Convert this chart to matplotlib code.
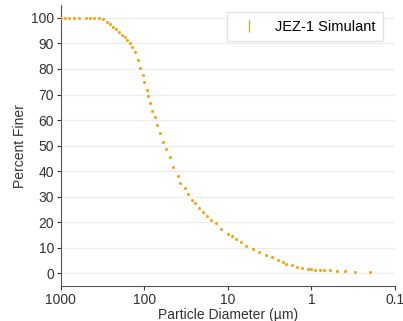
import matplotlib.pyplot as plt
from matplotlib.lines import Line2D

plt.rcParams['font.family'] = ['Liberation Sans', 'DejaVu Sans']
plt.rcParams['font.size'] = 10

# particle size distribution
diameter = [1000, 900, 800, 700, 600, 500, 450, 400, 350, 310, 280, 260, 240, 220,
            200, 185, 170, 160, 150, 140, 130, 120, 112, 105, 100, 94, 90, 85, 80,
            75, 70, 65, 60, 55, 50, 45, 40, 37, 33, 30, 27, 25, 22, 20, 18, 16, 14,
            12, 10, 9, 8, 7, 6, 5, 4.2, 3.5, 3, 2.5, 2.2, 2, 1.7, 1.5, 1.3, 1.1,
            1.0, 0.9, 0.8, 0.7, 0.6, 0.5, 0.4, 0.3, 0.2]
finer = [100, 100, 100, 100, 100, 100, 100, 100, 100, 99.5, 98.5, 97.5, 96.5, 95.5,
         94.5, 93.5, 92.5, 91.5, 90, 88.5, 86.5, 83.5, 80.5, 77.5, 75, 71.8, 69.5, 66.5, 63.5,
         61, 58, 55, 51.5, 48.5, 45.5, 41.5, 38, 35.5, 33.3, 31, 28.8, 27.5, 25.5, 24, 22.5, 21, 19.8,
         17.5, 15.5, 14.5, 13.3, 12.2, 10.8, 9.5, 8.2, 7, 6.2, 5, 4.3, 3.8, 3.1, 2.6, 2.1, 1.7,
         1.5, 1.3, 1.2, 1.2, 1.1, 1.0, 0.8, 0.5, 0.4]
xticks = [1000, 100, 10, 1, 0.1]
xlabels = ['1000', '100', '10', '1', '0.1']

fig = plt.figure(figsize=(4.03, 3.21), dpi=100)
ax = fig.add_axes([0.151, 0.109, 0.829, 0.875])

ax.scatter(diameter, finer, s=5, color='#f2a516', linewidths=0, zorder=3)

ax.set_xscale('log')
ax.set_xlim(1000, 0.1)
ax.set_ylim(-5, 105)
ax.set_xticks(xticks)
ax.set_xticklabels(xlabels)
ax.minorticks_off()
ax.set_yticks(range(0, 101, 10))
ax.yaxis.grid(True, color='#ececec', lw=0.8)
ax.set_axisbelow(True)

for s in ['top', 'right']:
    ax.spines[s].set_visible(False)
for s in ['left', 'bottom']:
    ax.spines[s].set_color('#555555')
    ax.spines[s].set_linewidth(0.8)
ax.tick_params(colors='#333333', length=3, width=0.8, labelsize=10, pad=2)

ax.set_xlabel('Particle Diameter (\u00b5m)', labelpad=1, color='#333333', fontsize=10)
ax.set_ylabel('Percent Finer', labelpad=3, color='#333333', fontsize=10)

h = Line2D([], [], marker='|', ls='none', color='#c9b23a', markersize=8)
ax.legend([h], ['JEZ-1 Simulant'], loc='upper right', bbox_to_anchor=(0.985, 1.0),
          frameon=True, edgecolor='#dddddd', fancybox=False, fontsize=10.5,
          handletextpad=0.8, borderpad=0.5)

fig.savefig('out.png', dpi=100)
